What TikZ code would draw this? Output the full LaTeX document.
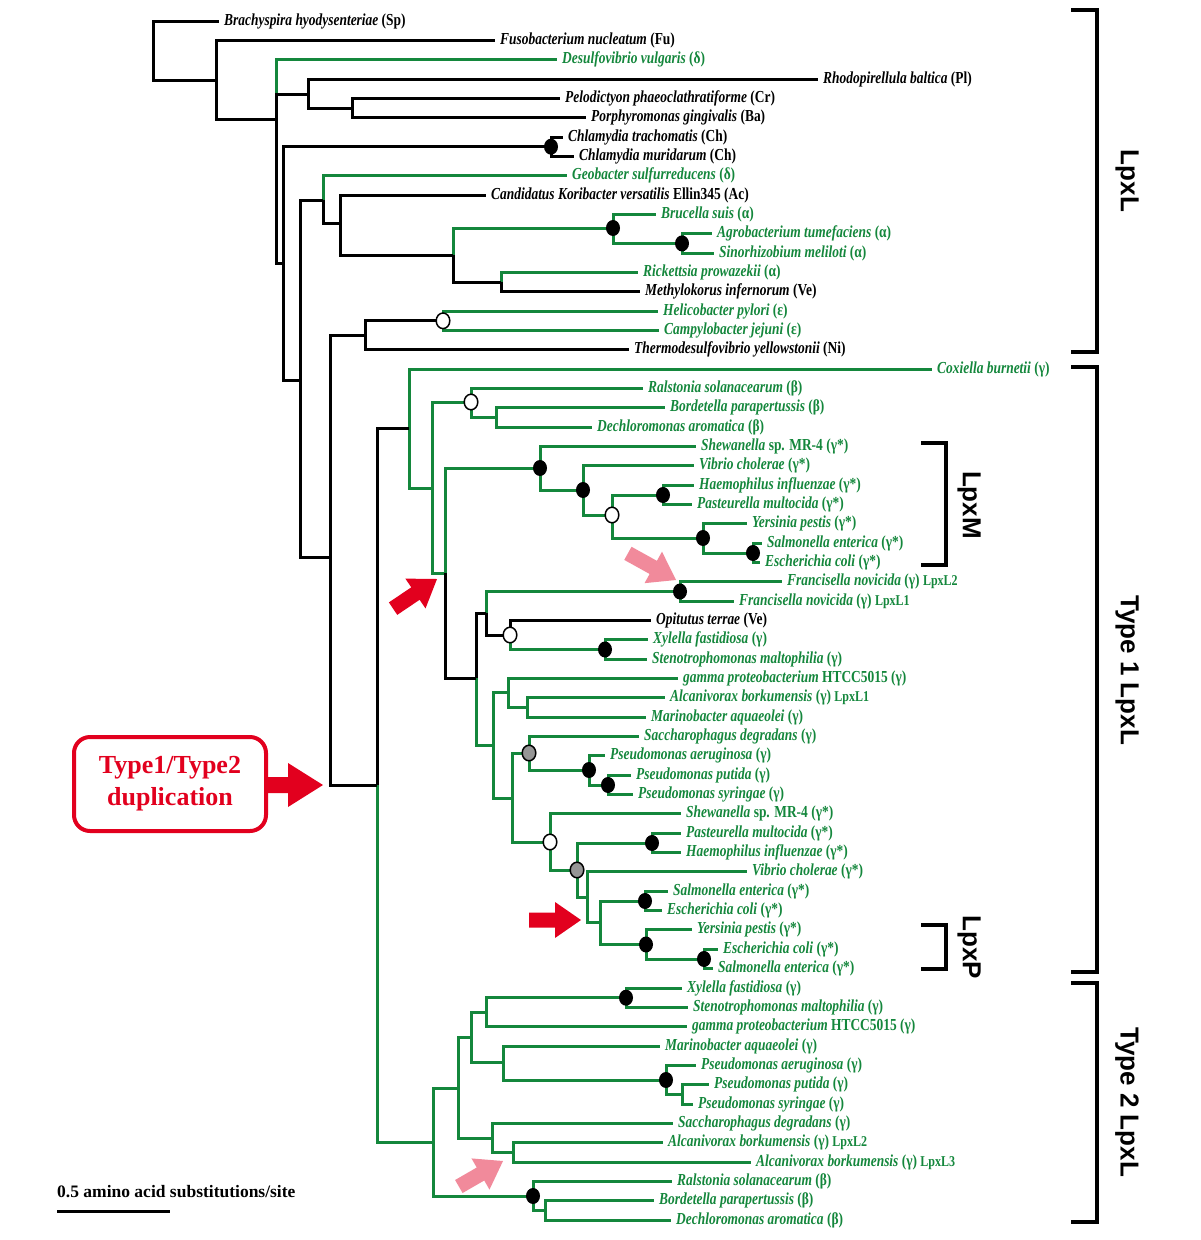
\documentclass[tikz,border=0pt]{standalone}
\usepackage{fontspec}
\setmainfont{Liberation Serif}
\newfontfamily\leaffont{Liberation Serif}[FakeStretch=0.80]
\newfontfamily\brfont{Liberation Sans}
\definecolor{tgreen}{RGB}{20,135,60}
\definecolor{tred}{RGB}{226,0,30}
\definecolor{tpink}{RGB}{241,138,155}
\newcommand\rom[1]{\textup{#1}}
\newcommand\sfx[1]{\textup{\fontsize{15}{16}\selectfont #1}}
\newcommand\fatarr[5]{\fill[#5, shift={(#1,#2)}, rotate=#3] (0,0) -- (-26,18) -- (-26,7.5) -- (-#4,7.5) -- (-#4,-7.5) -- (-26,-7.5) -- (-26,-18) -- cycle;}
\begin{document}
\begin{tikzpicture}[x=1pt,y=-1pt,
  blk/.style={draw=black, line width=3pt},
  grn/.style={draw=tgreen, line width=3pt},
  leaf/.style={anchor=west, inner xsep=5.5pt, inner ysep=0pt, text height=11pt, text depth=3pt, font=\leaffont\fontsize{16.8}{18}\selectfont\bfseries\itshape},
  lb/.style={leaf, text=black},
  lg/.style={leaf, text=tgreen},
  brl/.style={rotate=-90, inner sep=0pt, font=\brfont\bfseries\fontsize{26}{28}\selectfont},
  brk/.style={draw=black, line width=3.8pt}]
\fill[white] (0,0) rectangle (1200,1240);
\useasboundingbox (0,0) rectangle (1200,1240);

% ---------- leaves ----------
\node[lb] (l0) at (218.5,21.0) {Brachyspira hyodysenteriae \rom{(Sp)}};
\node[lb] (l1) at (494.5,40.34) {Fusobacterium nucleatum \rom{(Fu)}};
\node[lg] (l2) at (556.5,59.68) {Desulfovibrio vulgaris \rom{(δ)}};
\node[lb] (l3) at (817.5,79.02) {Rhodopirellula baltica \rom{(Pl)}};
\node[lb] (l4) at (559.5,98.36) {Pelodictyon phaeoclathratiforme \rom{(Cr)}};
\node[lb] (l5) at (585.5,117.7) {Porphyromonas gingivalis \rom{(Ba)}};
\node[lb] (l6) at (562.5,137.04) {Chlamydia trachomatis \rom{(Ch)}};
\node[lb] (l7) at (573.5,156.38) {Chlamydia muridarum \rom{(Ch)}};
\node[lg] (l8) at (566.5,175.72) {Geobacter sulfurreducens \rom{(δ)}};
\node[lb] (l9) at (485.5,195.06) {Candidatus Koribacter versatilis \rom{Ellin345 (Ac)}};
\node[lg] (l10) at (655.5,214.4) {Brucella suis \rom{(α)}};
\node[lg] (l11) at (711.5,233.74) {Agrobacterium tumefaciens \rom{(α)}};
\node[lg] (l12) at (713.5,253.08) {Sinorhizobium meliloti \rom{(α)}};
\node[lg] (l13) at (637.5,272.42) {Rickettsia prowazekii \rom{(α)}};
\node[lb] (l14) at (639.5,291.76) {Methylokorus infernorum \rom{(Ve)}};
\node[lg] (l15) at (657.5,311.1) {Helicobacter pylori \rom{(ε)}};
\node[lg] (l16) at (658.5,330.44) {Campylobacter jejuni \rom{(ε)}};
\node[lb] (l17) at (628.5,349.78) {Thermodesulfovibrio yellowstonii \rom{(Ni)}};
\node[lg] (l18) at (931.5,369.12) {Coxiella burnetii \rom{(γ)}};
\node[lg] (l19) at (642.5,388.46) {Ralstonia solanacearum \rom{(β)}};
\node[lg] (l20) at (664.5,407.8) {Bordetella parapertussis \rom{(β)}};
\node[lg] (l21) at (591.5,427.14) {Dechloromonas aromatica \rom{(β)}};
\node[lg] (l22) at (695.5,446.48) {Shewanella \rom{sp. MR-4 (γ*)}};
\node[lg] (l23) at (693.5,465.82) {Vibrio cholerae \rom{(γ*)}};
\node[lg] (l24) at (693.5,485.16) {Haemophilus influenzae \rom{(γ*)}};
\node[lg] (l25) at (691.5,504.5) {Pasteurella multocida \rom{(γ*)}};
\node[lg] (l26) at (746.5,523.84) {Yersinia pestis \rom{(γ*)}};
\node[lg] (l27) at (761.5,543.18) {Salmonella enterica \rom{(γ*)}};
\node[lg] (l28) at (759.5,562.52) {Escherichia coli \rom{(γ*)}};
\node[lg] (l29) at (781.5,581.86) {Francisella novicida \rom{(γ)} \sfx{LpxL2}};
\node[lg] (l30) at (733.5,601.2) {Francisella novicida \rom{(γ)} \sfx{LpxL1}};
\node[lb] (l31) at (650.5,620.54) {Opitutus terrae \rom{(Ve)}};
\node[lg] (l32) at (647.5,639.88) {Xylella fastidiosa \rom{(γ)}};
\node[lg] (l33) at (646.5,659.22) {Stenotrophomonas maltophilia \rom{(γ)}};
\node[lg] (l34) at (677.5,678.56) {gamma proteobacterium \rom{HTCC5015 (γ)}};
\node[lg] (l35) at (664.5,697.9) {Alcanivorax borkumensis \rom{(γ)} \sfx{LpxL1}};
\node[lg] (l36) at (645.5,717.24) {Marinobacter aquaeolei \rom{(γ)}};
\node[lg] (l37) at (638.5,736.58) {Saccharophagus degradans \rom{(γ)}};
\node[lg] (l38) at (604.5,755.92) {Pseudomonas aeruginosa \rom{(γ)}};
\node[lg] (l39) at (630.5,775.26) {Pseudomonas putida \rom{(γ)}};
\node[lg] (l40) at (632.5,794.6) {Pseudomonas syringae \rom{(γ)}};
\node[lg] (l41) at (680.5,813.94) {Shewanella \rom{sp. MR-4 (γ*)}};
\node[lg] (l42) at (680.5,833.28) {Pasteurella multocida \rom{(γ*)}};
\node[lg] (l43) at (680.5,852.62) {Haemophilus influenzae \rom{(γ*)}};
\node[lg] (l44) at (746.5,871.96) {Vibrio cholerae \rom{(γ*)}};
\node[lg] (l45) at (667.5,891.3) {Salmonella enterica \rom{(γ*)}};
\node[lg] (l46) at (661.5,910.64) {Escherichia coli \rom{(γ*)}};
\node[lg] (l47) at (691.5,929.98) {Yersinia pestis \rom{(γ*)}};
\node[lg] (l48) at (717.5,949.32) {Escherichia coli \rom{(γ*)}};
\node[lg] (l49) at (712.5,968.66) {Salmonella enterica \rom{(γ*)}};
\node[lg] (l50) at (681.5,988.0) {Xylella fastidiosa \rom{(γ)}};
\node[lg] (l51) at (687.5,1007.34) {Stenotrophomonas maltophilia \rom{(γ)}};
\node[lg] (l52) at (686.5,1026.68) {gamma proteobacterium \rom{HTCC5015 (γ)}};
\node[lg] (l53) at (659.5,1046.02) {Marinobacter aquaeolei \rom{(γ)}};
\node[lg] (l54) at (695.5,1065.36) {Pseudomonas aeruginosa \rom{(γ)}};
\node[lg] (l55) at (708.5,1084.7) {Pseudomonas putida \rom{(γ)}};
\node[lg] (l56) at (692.5,1104.04) {Pseudomonas syringae \rom{(γ)}};
\node[lg] (l57) at (672.5,1123.38) {Saccharophagus degradans \rom{(γ)}};
\node[lg] (l58) at (662.5,1142.72) {Alcanivorax borkumensis \rom{(γ)} \sfx{LpxL2}};
\node[lg] (l59) at (750.5,1162.06) {Alcanivorax borkumensis \rom{(γ)} \sfx{LpxL3}};
\node[lg] (l60) at (671.5,1181.4) {Ralstonia solanacearum \rom{(β)}};
\node[lg] (l61) at (653.5,1200.74) {Bordetella parapertussis \rom{(β)}};
\node[lg] (l62) at (670.5,1220.08) {Dechloromonas aromatica \rom{(β)}};

% ---------- internal nodes ----------
\coordinate (R0) at (153,50);
\coordinate (N1) at (216,80.5);
\coordinate (N2) at (276,119.5);
\coordinate (N3) at (308,94.5);
\coordinate (N4) at (352,108);
\coordinate (N5) at (283,263);
\coordinate (Nch) at (551,146.7);
\coordinate (N8) at (300,380);
\coordinate (N6) at (323,200);
\coordinate (N7) at (340,223);
\coordinate (N9) at (453,255);
\coordinate (N10) at (613,228);
\coordinate (N12) at (682,243.4);
\coordinate (N11) at (501,282);
\coordinate (N15) at (330,557);
\coordinate (N13) at (365,335);
\coordinate (N14) at (443,320.8);
\coordinate (N16) at (377,785);
\coordinate (N17) at (409,428);
\coordinate (N18) at (432,488);
\coordinate (N19) at (471,402);
\coordinate (N38) at (496,417.5);
\coordinate (N20) at (445,573);
\coordinate (N39) at (540,468);
\coordinate (N40) at (583,490);
\coordinate (N41) at (612,515);
\coordinate (N42) at (663,495);
\coordinate (N43) at (703,538);
\coordinate (N44) at (753,553);
\coordinate (N21) at (476,678);
\coordinate (N22) at (486,613);
\coordinate (N45) at (680,591.5);
\coordinate (N46) at (510,635);
\coordinate (N47) at (605,649.5);
\coordinate (N23) at (493,745);
\coordinate (N24) at (508,692);
\coordinate (N26) at (527,707.5);
\coordinate (N25) at (512,798);
\coordinate (N27) at (529,753);
\coordinate (N29) at (589,770);
\coordinate (N30) at (608,785);
\coordinate (N28) at (550,842);
\coordinate (N31) at (577,870);
\coordinate (N32) at (652,843);
\coordinate (N33) at (587,897);
\coordinate (N34) at (600,922);
\coordinate (N35) at (645,901);
\coordinate (N36) at (646,944.5);
\coordinate (N37) at (704,959);
\coordinate (N48) at (433,1142);
\coordinate (N49) at (458,1088);
\coordinate (N51) at (471,1037);
\coordinate (N53) at (486,1012);
\coordinate (N55) at (626,997.7);
\coordinate (N54) at (503,1062.5);
\coordinate (N56) at (666,1080);
\coordinate (N57) at (682,1094.4);
\coordinate (N52) at (492,1138);
\coordinate (N58) at (513,1152.4);
\coordinate (N50) at (533,1196);
\coordinate (N59) at (545,1210.4);

% ---------- green branches ----------
\foreach \a/\b in {N2/l2.west, N6/l8.west, N9/N10, N10/l10.west, N10/N12, N12/l11.west, N12/l12.west,
  N11/l13.west, N14/l15.west, N14/l16.west, N16/N48, N17/l18.west, N17/N18, N18/N19, N18/N20,
  N19/l19.west, N19/N38, N38/l20.west, N38/l21.west, N20/N39, N39/l22.west, N39/N40, N40/l23.west,
  N40/N41, N41/N42, N41/N43, N42/l24.west, N42/l25.west, N43/l26.west, N43/N44, N44/l27.west,
  N44/l28.west, N21/N23, N22/N45, N45/l29.west, N45/l30.west, N46/N47, N47/l32.west, N47/l33.west,
  N23/N24, N23/N25, N24/l34.west, N24/N26, N26/l35.west, N26/l36.west, N25/N27, N25/N28,
  N27/l37.west, N27/N29, N29/l38.west, N29/N30, N30/l39.west, N30/l40.west, N28/l41.west, N28/N31,
  N31/N32, N31/N33, N32/l42.west, N32/l43.west, N33/l44.west, N33/N34, N34/N35, N34/N36,
  N35/l45.west, N35/l46.west, N36/l47.west, N36/N37, N37/l48.west, N37/l49.west,
  N48/N49, N48/N50, N49/N51, N49/N52, N51/N53, N51/N54, N53/N55, N53/l52.west, N55/l50.west,
  N55/l51.west, N54/l53.west, N54/N56, N56/l54.west, N56/N57, N57/l55.west, N57/l56.west,
  N52/l57.west, N52/N58, N58/l58.west, N58/l59.west, N50/l60.west, N50/N59, N59/l61.west, N59/l62.west}
  \draw[grn] (\a) |- (\b);

% ---------- black branches ----------
\foreach \a/\b in {R0/l0.west, R0/N1, N1/l1.west, N1/N2, N2/N3, N2/N5, N3/l3.west, N3/N4,
  N4/l4.west, N4/l5.west, N5/Nch, N5/N8, Nch/l6.west, Nch/l7.west, N8/N6, N8/N15, N6/N7,
  N7/l9.west, N7/N9, N9/N11, N11/l14.west, N15/N13, N15/N16, N13/N14, N13/l17.west, N16/N17,
  N20/N21, N21/N22, N22/N46, N46/l31.west}
  \draw[blk] (\a) |- (\b);

% ---------- bootstrap dots ----------
\foreach \n in {Nch, N10, N12, N39, N40, N42, N43, N44, N45, N47, N29, N30, N32, N35, N36, N37, N55, N56, N50}
  \fill[black] (\n) ellipse [x radius=7pt, y radius=8pt];
\foreach \n in {N14, N19, N41, N46, N28}
  \filldraw[fill=white, draw=black, line width=1.5pt] (\n) ellipse [x radius=6.8pt, y radius=7.8pt];
\foreach \n in {N27, N31}
  \filldraw[fill={rgb,255:red,150;green,150;blue,150}, draw=black, line width=1.5pt] (\n) ellipse [x radius=6.8pt, y radius=7.8pt];

% ---------- brackets ----------
\draw[brk] (1071,10) -- (1097,10) -- (1097,352) -- (1071,352);
\draw[brk] (1071,367) -- (1097,367) -- (1097,972) -- (1071,972);
\draw[brk] (1071,983) -- (1097,983) -- (1097,1222) -- (1071,1222);
\draw[brk] (921,443) -- (946,443) -- (946,565) -- (921,565);
\draw[brk] (921,925) -- (946,925) -- (946,969) -- (921,969);
\node[brl] (tLpxL) at (1127,181) {LpxL};
\node[brl] (tType1) at (1127,670) {Type 1 LpxL};
\node[brl] (tType2) at (1127,1102) {Type 2 LpxL};
\node[brl] (tLpxM) at (969,505) {LpxM};
\node[brl] (tLpxP) at (969,947) {LpxP};

% ---------- duplication box ----------
\node[draw=tred, line width=4pt, rounded corners=16pt, minimum width=192pt, minimum height=94pt,
  text=tred, font=\fontsize{26}{32}\selectfont\bfseries, align=center] (dup) at (170,784) {Type1/Type2\\duplication};
\coordinate (dupT) at (323,785);
\fill[tred] (266,777) -- (288,777) -- (288,763) -- (dupT) -- (288,807) -- (288,793) -- (266,793) -- cycle;

% ---------- arrows ----------
\fatarr{437}{579}{34}{53}{tred}
\fatarr{581}{920}{0}{52}{tred}
\fatarr{676}{580}{-29}{55}{tpink}
\fatarr{503}{1161}{30}{51}{tpink}

% ---------- scale bar ----------
\node[anchor=west, inner sep=0pt, font=\fontsize{17.5}{18}\selectfont\bfseries] (sb) at (57,1192) {0.5 amino acid substitutions/site};
\coordinate (sbA) at (57,1211);
\coordinate (sbB) at (170,1211);
\draw[line width=3pt] (sbA) -- (sbB);
\end{tikzpicture}
\end{document}
